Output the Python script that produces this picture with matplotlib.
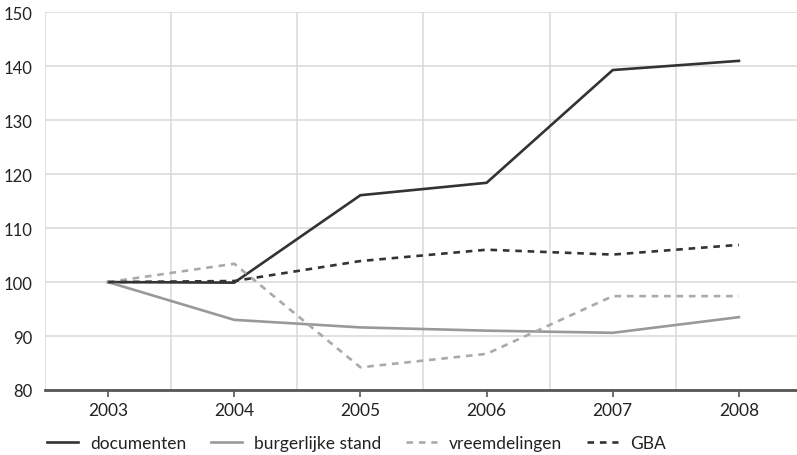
import matplotlib
matplotlib.use('agg')
import matplotlib.pyplot as plt
import numpy as np

plt.rcParams['font.family'] = ['Lato', 'DejaVu Sans']

years = ['2003', '2004', '2005', '2006', '2007', '2008']
documenten = [100, 99.9, 116.1, 118.4, 139.3, 141.0]
burgerlijke_stand = [100, 93.0, 91.6, 91.0, 90.6, 93.5]
vreemdelingen = [100, 103.4, 84.2, 86.7, 97.4, 97.4]
gba = [100, 100.2, 103.9, 106.0, 105.1, 106.9]
y_ticks = [80, 90, 100, 110, 120, 130, 140, 150]

fig = plt.figure(figsize=(7.97, 4.56), dpi=100)
ax = fig.add_axes([45 / 797, 1 - 391 / 456, 757 / 797, (391 - 13.3) / 456])

x = np.arange(len(years))
ax.plot(x, documenten, color='#333333', lw=1.9, label='documenten')
ax.plot(x, burgerlijke_stand, color='#999999', lw=1.9, label='burgerlijke stand')
ax.plot(x, vreemdelingen, color='#aaaaaa', lw=1.9, dashes=(2.5, 2.2), label='vreemdelingen')
ax.plot(x, gba, color='#333333', lw=1.9, dashes=(2.5, 2.2), label='GBA')

ax.set_xlim(-0.5, 5.5)
ax.set_ylim(80, 150)
ax.set_xticks(x)
ax.set_xticklabels(years)
ax.set_xticks(np.arange(-0.5, 6, 1), minor=True)
ax.set_yticks(y_ticks)

ax.grid(axis='y', which='major', color='#d9d9d9', lw=1.1)
ax.grid(axis='x', which='minor', color='#d9d9d9', lw=1.1)
ax.set_axisbelow(True)

for s in ['top', 'right', 'left']:
    ax.spines[s].set_visible(False)
ax.spines['bottom'].set_color('#555555')
ax.spines['bottom'].set_linewidth(2)

ax.tick_params(axis='x', which='major', length=5, width=1.2, color='#555555',
               labelsize=12.5, labelcolor='#222222', pad=4)
ax.tick_params(axis='x', which='minor', length=0)
ax.tick_params(axis='y', length=0, labelsize=12, labelcolor='#222222', pad=9)

fig.legend(loc='lower left', bbox_to_anchor=(45 / 797, 0.005), ncol=4, frameon=False,
           fontsize=12.5, handlelength=1.8, handletextpad=0.7, columnspacing=1.4,
           borderpad=0, borderaxespad=0.1, labelcolor='#222222')

fig.savefig('out.png', dpi=100)
